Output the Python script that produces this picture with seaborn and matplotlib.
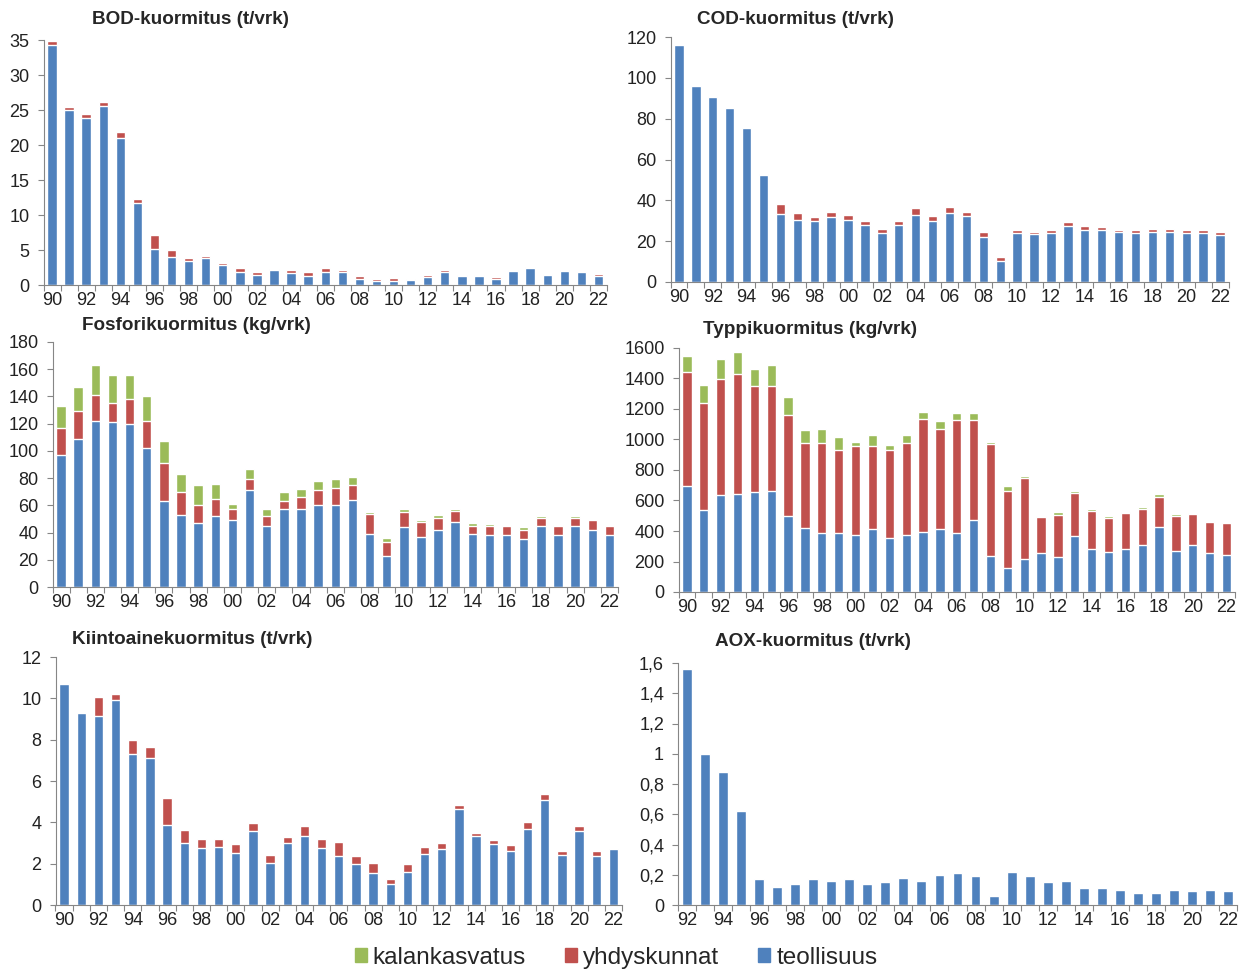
import matplotlib
matplotlib.use("Agg")
import matplotlib.pyplot as plt
import seaborn as sns
import numpy as np
from matplotlib.ticker import FuncFormatter, FixedLocator
from matplotlib.patches import Patch

# ── data ──
years = list(range(1990, 2023))
aox_years = list(range(1992, 2023))

bod_teol = [34.3, 25.0, 23.9, 25.6, 21.0, 11.7, 5.1, 4.0, 3.4, 3.8, 2.8, 1.8, 1.5, 2.1, 1.7, 1.3, 1.8,
            1.8, 0.8, 0.6, 0.6, 0.7, 1.2, 1.8, 1.3, 1.3, 0.9, 2.0, 2.4, 1.5, 2.0, 1.8, 1.3]
bod_yhd = [0.5, 0.4, 0.6, 0.5, 0.8, 0.6, 2.0, 1.0, 0.4, 0.4, 0.4, 0.6, 0.3, 0.2, 0.5, 0.5, 0.6,
           0.3, 0.5, 0.2, 0.4, 0.2, 0.2, 0.3, 0.1, 0.1, 0.2, 0.2, 0.2, 0.1, 0.1, 0.1, 0.3]

cod_teol = [116, 96, 90.5, 85, 75.5, 52.5, 33.5, 30.5, 29.8, 32, 30.5, 28, 24, 27.8, 33, 30, 34,
            32.5, 22, 10.3, 23.8, 23.3, 23.8, 27.3, 25.7, 25.7, 24.3, 24, 24.7, 24.3, 24, 24, 23]
cod_yhd = [0, 0, 0, 0, 0, 0.5, 4.5, 3.5, 2.2, 2.2, 2.5, 2.0, 1.8, 2.0, 3.3, 2.3, 2.7,
           2.0, 2.7, 2.0, 1.9, 1.4, 1.9, 1.9, 1.8, 1.3, 1.4, 1.4, 1.5, 1.7, 1.7, 1.7, 1.3]

p_teol = [97, 109, 122, 121, 120, 102, 63, 53, 47, 52, 49, 71, 45, 57, 57, 60, 60,
          64, 39, 23, 44, 37, 42, 48, 39, 38, 38, 35, 45, 38, 45, 42, 38]
p_yhd = [20, 20, 19, 14, 18, 20, 28, 17, 13, 13, 8, 8, 7, 6, 9, 11, 13,
         11, 15, 10, 11, 11, 9, 8, 6, 7, 7, 7, 6, 7, 6, 7.5, 7]
p_kala = [16, 18, 22, 21, 18, 18, 16, 13, 15, 11, 4, 8, 5, 7, 6, 7, 6,
          6, 1, 3, 2, 1, 2, 1, 2, 1, 0.5, 2, 1, 0.5, 1, 0, 0]

n_teol = [695, 535, 635, 640, 655, 665, 500, 420, 390, 385, 375, 415, 355, 375, 395, 410, 385,
          475, 235, 160, 215, 255, 230, 365, 285, 265, 285, 310, 425, 270, 305, 255, 240]
n_yhd = [750, 705, 760, 790, 695, 685, 660, 555, 590, 545, 580, 545, 575, 605, 740, 660, 745,
         655, 735, 505, 530, 235, 275, 285, 245, 220, 235, 235, 200, 230, 205, 205, 215]
n_kala = [105, 120, 135, 145, 110, 140, 120, 85, 90, 85, 30, 70, 35, 50, 45, 50, 45,
          45, 15, 30, 15, 10, 20, 10, 15, 15, 5, 15, 15, 10, 10, 2, 0]

ss_teol = [10.7, 9.3, 9.15, 9.9, 7.3, 7.1, 3.85, 3.0, 2.75, 2.8, 2.5, 3.6, 2.05, 3.0, 3.35, 2.75, 2.35,
           2.0, 1.55, 1.0, 1.6, 2.45, 2.7, 4.65, 3.35, 2.95, 2.6, 3.7, 5.1, 2.4, 3.6, 2.35, 2.7]
ss_yhd = [0, 0, 0.9, 0.3, 0.7, 0.55, 1.35, 0.65, 0.45, 0.4, 0.45, 0.35, 0.35, 0.3, 0.45, 0.45, 0.7,
          0.35, 0.5, 0.25, 0.4, 0.35, 0.3, 0.2, 0.15, 0.2, 0.3, 0.3, 0.25, 0.2, 0.2, 0.25, 0]

aox_teol = [1.56, 1.0, 0.88, 0.62, 0.17, 0.12, 0.14, 0.17, 0.16, 0.17, 0.14, 0.15, 0.18, 0.16, 0.20,
            0.21, 0.19, 0.06, 0.22, 0.19, 0.15, 0.16, 0.11, 0.11, 0.10, 0.08, 0.08, 0.10, 0.09, 0.10, 0.09]

BLUE, RED, GREEN = '#4F81BD', '#C0504D', '#9BBB59'
AXC = '#868686'

sns.set_style("ticks")
plt.rcParams['font.family'] = ['Liberation Sans', 'DejaVu Sans']

W, H = 1247, 969
fig = plt.figure(figsize=(W / 100, H / 100), dpi=100)


def comma(v, pos):
    s = f"{v:g}"
    return s.replace('.', ',')


def panel(px, title, tx, ty, yrs, teol, yhd=None, kala=None, ymax=1, ystep=1, fmt=None):
    left, right, top, bottom = px
    ax = fig.add_axes([left / W, 1 - bottom / H, (right - left) / W, (bottom - top) / H])
    teol = np.array(teol, dtype=float)
    layers = [(teol, BLUE)]
    if yhd is not None:
        layers.insert(0, (teol + np.array(yhd), RED))
    if kala is not None:
        layers.insert(0, (teol + np.array(yhd) + np.array(kala), GREEN))
    # pinotut pylväät: kokonaissumma ensin, teollisuus päällimmäisenä
    for vals, col in layers:
        sns.barplot(x=yrs, y=vals, color=col, saturation=1, width=0.55, ax=ax, zorder=2)
    n = len(yrs)
    ax.set_xlim(-0.5, n - 0.5)
    ax.set_ylim(0, ymax)
    ax.set_yticks(np.arange(0, ymax + ystep / 2, ystep))
    if fmt is not None:
        ax.yaxis.set_major_formatter(FuncFormatter(fmt))
    lab_pos = [i for i, y in enumerate(yrs) if y % 2 == 0]
    ax.xaxis.set_major_locator(FixedLocator(lab_pos))
    ax.set_xticklabels([f"{yrs[i] % 100:02d}" for i in lab_pos])
    ax.xaxis.set_minor_locator(FixedLocator(np.arange(-0.5, n, 1.0)))
    ax.tick_params(axis='x', which='major', length=0, pad=5, labelsize=13, colors='#222222')
    ax.tick_params(axis='x', which='minor', length=4, color=AXC, width=0.8)
    ax.tick_params(axis='y', length=4, color=AXC, width=0.8, labelsize=13, labelcolor='#222222', pad=6)
    ax.set_xlabel('')
    ax.set_ylabel('')
    sns.despine(ax=ax)
    for s in ('left', 'bottom'):
        ax.spines[s].set_color(AXC)
        ax.spines[s].set_linewidth(0.8)
    fig.text(tx / W, 1 - ty / H, title, ha='left', va='center', fontsize=13.6, fontweight='bold')
    return ax


panel((43.5, 607, 40, 285), 'BOD-kuormitus (t/vrk)', 92, 20, years, bod_teol, bod_yhd,
      ymax=35, ystep=5)
panel((670.5, 1228.5, 37, 282), 'COD-kuormitus (t/vrk)', 697, 20, years, cod_teol, cod_yhd,
      ymax=120, ystep=20)
panel((52.5, 618, 342, 587), 'Fosforikuormitus (kg/vrk)', 82, 325, years, p_teol, p_yhd, p_kala,
      ymax=180, ystep=20)
panel((678.5, 1235, 348, 592), 'Typpikuormitus (kg/vrk)', 703, 330, years, n_teol, n_yhd, n_kala,
      ymax=1600, ystep=200)
panel((55.5, 622, 657, 905), 'Kiintoainekuormitus (t/vrk)', 72, 640, years, ss_teol, ss_yhd,
      ymax=12, ystep=2)
panel((678, 1237, 663, 905), 'AOX-kuormitus (t/vrk)', 715, 642, aox_years, aox_teol,
      ymax=1.6, ystep=0.2, fmt=comma)

handles = [Patch(color=GREEN, label='kalankasvatus'),
           Patch(color=RED, label='yhdyskunnat'),
           Patch(color=BLUE, label='teollisuus')]
fig.legend(handles=handles, loc='center', bbox_to_anchor=(616 / W, 1 - 958 / H), ncol=3,
           frameon=False, fontsize=17.5, handlelength=0.5, handleheight=0.5, handletextpad=0.25,
           columnspacing=1.6)

plt.savefig('out.png', dpi=100)
